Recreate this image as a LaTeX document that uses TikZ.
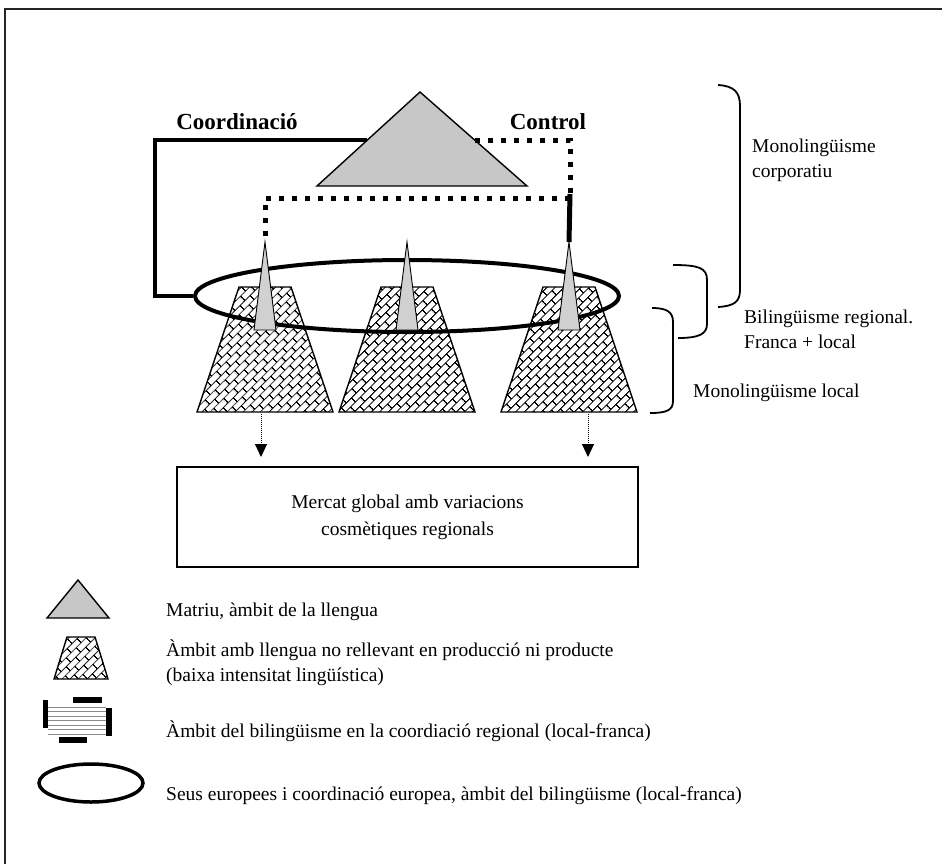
\documentclass[tikz,border=0pt]{standalone}
\usepackage{fontspec}
\setmainfont{Liberation Serif}
\usetikzlibrary{patterns.meta,arrows.meta,shapes.geometric,calc}

% diagonal brick hatching used for the production units
\pgfdeclarepattern{
  name=brickwall,
  type=uncolored,
  bottom left={\pgfpoint{0pt}{0pt}},
  top right={\pgfpoint{14pt}{12pt}},
  tile size={\pgfpoint{14pt}{12pt}},
  tile transformation={\pgftransformrotate{45}},
  code={
    \pgfsetlinewidth{1.1pt}
    \pgfpathmoveto{\pgfpoint{-0.5pt}{3pt}}\pgfpathlineto{\pgfpoint{14.5pt}{3pt}}
    \pgfpathmoveto{\pgfpoint{-0.5pt}{9pt}}\pgfpathlineto{\pgfpoint{14.5pt}{9pt}}
    \pgfpathmoveto{\pgfpoint{3.5pt}{3pt}}\pgfpathlineto{\pgfpoint{3.5pt}{9pt}}
    \pgfpathmoveto{\pgfpoint{10.5pt}{9pt}}\pgfpathlineto{\pgfpoint{10.5pt}{12.5pt}}
    \pgfpathmoveto{\pgfpoint{10.5pt}{-0.5pt}}\pgfpathlineto{\pgfpoint{10.5pt}{3pt}}
    \pgfusepath{stroke}
  }
}

\tikzset{
  matrixtri/.style={draw, line width=1.4pt, fill=black!22, line join=miter},
  unitbox/.style={draw, line width=1.4pt, preaction={fill=white}, pattern=brickwall, pattern color=black, line join=miter},
  spike/.style={draw, line width=0.9pt, fill=black!18, line join=miter},
  ring/.style={draw, ellipse, line width=4pt, inner sep=0pt},
  coordline/.style={line width=4.5pt, line join=miter},
  ctrlline/.style={line width=5pt, dash pattern=on 5pt off 8pt},
  ctrlsolid/.style={line width=5pt},
  flow/.style={densely dotted, line width=1pt, -{Triangle[length=13pt,width=12pt]}},
  bracket/.style={line width=1.8pt},
  lbl/.style={font=\fontsize{19.5}{25}\selectfont, align=left, anchor=west, inner sep=0pt},
  head/.style={font=\bfseries\fontsize{23}{28}\selectfont, inner sep=0pt},
  stripe/.style={line width=1pt, black!45}
}

\begin{document}
\begin{tikzpicture}[x=1pt,y=-1pt]
\useasboundingbox (0,0) rectangle (942,863);
\clip (0,0) rectangle (942,863);

% outer frame
\draw[line width=1.2pt, black!85] (5,9) rectangle (960,880);

% headquarters triangle
\coordinate (apex) at (420,92);
\coordinate (baseL) at (317,186);
\coordinate (baseR) at (527,186);
\draw[matrixtri] (baseL) -- (apex) -- (baseR) -- cycle;

% three regional units
\foreach \c/\n in {265/uL,407/uM,569/uR}{
  \draw[unitbox] (\c-26,287) -- (\c+26,287) -- (\c+68,412) -- (\c-68,412) -- cycle;
  \coordinate (\n) at (\c,412);
}

% European coordination ring
\node[ring, minimum width=424pt, minimum height=72pt] (ring) at (407,296) {};

% spikes of the language into each unit
\foreach \c/\n in {265/sL,407/sM,569/sR}{
  \draw[spike] (\c,242) -- (\c+11,330) -- (\c-11,330) -- cycle;
  \coordinate (\n) at (\c,242);
}

% coordination link (solid)
\coordinate (triCoord) at (367,140);
\draw[coordline] (triCoord) -- (155,140) -- (155,296) -- (ring.west);

% control link (square dots)
\coordinate (triCtrl) at (475,140);
\coordinate (ctrlTurn) at (570,140);
\coordinate (ctrlJoin) at (570,198);
\coordinate (ctrlLeft) at (265,198);
\draw[ctrlline] (triCtrl) -- (ctrlTurn) -- (ctrlJoin);
\draw[ctrlline] (ctrlJoin) -- (ctrlLeft) -- (sL);
\draw[ctrlsolid] (570,194) -- (sR);

% labels on the links
\node[head] (lcoord) at (237,122) {Coordinació};
\node[head] (lctrl) at (548,122) {Control};

% global market
\node[draw, line width=1.6pt, minimum width=461pt, minimum height=100pt,
      align=center, font=\fontsize{19.5}{27}\selectfont] (market) at (407.5,517)
  {Mercat global amb variacions\\cosmètiques regionals};
\draw[flow] (261,414) -- (261,457);
\draw[flow] (588,414) -- (588,457);

% brackets on the right
\draw[bracket] (718,85) .. controls (734,86) and (740,92) .. (740,106) -- (740,290)
  .. controls (740,302) and (734,306) .. (718,307);
\draw[bracket] (673,265) .. controls (699,265) and (707,268) .. (707,280) -- (707,324)
  .. controls (707,334) and (699,338) .. (678,338);
\draw[bracket] (652,308) .. controls (667,308) and (673,312) .. (673,322) -- (673,401)
  .. controls (673,410) and (667,413) .. (650,413);

\node[lbl] (lcorp) at (752,160) {Monolingüisme\\corporatiu};
\node[lbl] (lreg) at (744,329) {Bilingüisme regional.\\Franca + local};
\node[lbl] (lloc) at (693,393) {Monolingüisme local};

% legend symbols
\draw[matrixtri] (47,618) -- (78,580) -- (109,618) -- cycle;
\draw[unitbox] (67,637) -- (95,637) -- (108,679) -- (54,679) -- cycle;
\foreach \y in {707,711.5,716,720.5,725,729.5,734}{
  \draw[stripe] (48,\y) -- (106,\y);
}
\fill (73,697) rectangle (102,703);
\fill (43,700) rectangle (48,728);
\fill (106,708) rectangle (112,736);
\fill (59,737) rectangle (87,743);
\node[ring, minimum width=104pt, minimum height=38pt, line width=3.5pt] (legring) at (91,783) {};

% legend texts
\node[lbl] (t1) at (166,612) {Matriu, àmbit de la llengua};
\node[lbl] (t2) at (166,663) {Àmbit amb llengua no rellevant en producció ni producte\\(baixa intensitat lingüística)};
\node[lbl] (t3) at (166,731) {Àmbit del bilingüisme en la coordiació regional (local-franca)};
\node[lbl] (t4) at (166,796) {Seus europees i coordinació europea, àmbit del bilingüisme (local-franca)};
\end{tikzpicture}
\end{document}
